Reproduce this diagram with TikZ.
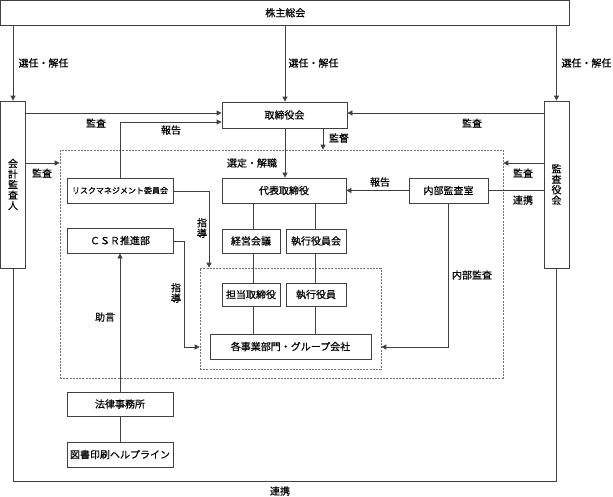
\documentclass[tikz,border=0pt]{standalone}
\usepackage{fontspec}
\newfontfamily\jp[FakeBold=0.5]{Noto Sans CJK JP}
\usetikzlibrary{arrows.meta}
\begin{document}
\begin{tikzpicture}[x=1pt,y=-1pt,
  bx/.style={draw=black!75, line width=0.8pt, inner sep=0pt, align=center, font=\jp\fontsize{10}{10.5}\selectfont},
  dbox/.style={draw=black!55, line width=0.7pt, dash pattern=on 2pt off 1.2pt, inner sep=0pt},
  ln/.style={draw=black!75, line width=0.8pt},
  arr/.style={ln, -{Triangle[length=5pt,width=5pt]}},
  lbl/.style={inner sep=0pt, font=\jp\fontsize{10}{10.5}\selectfont, align=center}]
\useasboundingbox (0,0) rectangle (613,496);
% dashed groups
\node[dbox, minimum width=443, minimum height=228] (outer) at (281.5,264) {};
\node[dbox, minimum width=181, minimum height=101] (inner) at (290.5,318.5) {};
% boxes
\node[bx, minimum width=569, minimum height=24.5] (kabu) at (285.3,12.8) {株主総会};
\node[bx, minimum width=25, minimum height=167] (kaikei) at (13,184.5) {会\\計\\監\\査\\人};
\node[bx, minimum width=25, minimum height=167] (kansa) at (556.5,184.5) {監\\査\\役\\会};
\node[bx, minimum width=125, minimum height=26] (tori) at (284.5,115) {取締役会};
\node[bx, minimum width=124, minimum height=25] (daihyo) at (284,190.5) {代表取締役};
\node[bx, minimum width=106, minimum height=25, font=\jp\fontsize{8}{9}\selectfont] (risk) at (120,190.5) {リスクマネジメント委員会};
\node[bx, minimum width=106, minimum height=25] (csr) at (120,240.5) {ＣＳＲ推進部};
\node[bx, minimum width=58, minimum height=24] (keiei) at (251,241) {経営会議};
\node[bx, minimum width=60, minimum height=24] (shikkai) at (316,241) {執行役員会};
\node[bx, minimum width=58, minimum height=23] (tantou) at (251,294.5) {担当取締役};
\node[bx, minimum width=60, minimum height=23] (shikkou) at (316,294.5) {執行役員};
\node[bx, minimum width=161, minimum height=25] (kaku) at (290.5,346.5) {各事業部門・グループ会社};
\node[bx, minimum width=79, minimum height=25] (naibu) at (448.5,190.5) {内部監査室};
\node[bx, minimum width=106, minimum height=24] (houritsu) at (120,404) {法律事務所};
\node[bx, minimum width=106, minimum height=25] (tosho) at (120,454.5) {図書印刷ヘルプライン};
% coordinates
\coordinate (kL) at (13,0);
\coordinate (kR) at (556.5,0);
\coordinate (kM) at (285,0);
\coordinate (y113) at (0,113);
\coordinate (y122) at (0,122);
\coordinate (y163) at (0,163);
\coordinate (kantoku) at (323,0);
\coordinate (shidou1) at (209,191);
\coordinate (shidou2) at (184,241);
\coordinate (y347) at (0,347);
\coordinate (bot) at (0,481);
\coordinate (v1) at (253,0);
\coordinate (v2) at (315,0);
% connectors from shareholders
\draw[arr] (kabu.south -| kL) -- (kaikei.north);
\draw[arr] (kabu.south -| kR) -- (kansa.north);
\draw[arr] (kabu.south -| kM) -- (tori.north -| kM);
\node[lbl] at (43.5,63) {選任・解任};
\node[lbl] at (313.5,63) {選任・解任};
\node[lbl] at (586.5,63) {選任・解任};
% audit to board
\draw[arr] (kaikei.east |- y113) -- (tori.west |- y113);
\node[lbl] at (96,123) {監査};
\draw[arr] (kansa.west |- y113) -- (tori.east |- y113);
\node[lbl] at (472,123) {監査};
\draw[arr] (risk.north) -- (risk.north |- y122) -- (tori.west |- y122);
\node[lbl] at (171,130) {報告};
\draw[arr] (tori.south -| kantoku) -- (outer.north -| kantoku);
\node[lbl] at (339,138) {監督};
\draw[arr] (tori.south -| kM) -- (daihyo.north -| kM);
\node[lbl] at (252,163) {選定・解職};
% audit to group
\draw[arr] (kaikei.east |- y163) -- (outer.west |- y163);
\node[lbl] at (42,173) {監査};
\draw[arr] (kansa.west |- y163) -- (outer.east |- y163);
\node[lbl] at (523,173) {監査};
\draw[ln] (kansa.west |- naibu.east) -- (naibu.east);
\node[lbl] at (523,200) {連携};
\draw[arr] (naibu.west) -- (daihyo.east);
\node[lbl] at (380,182) {報告};
% guidance
\draw[arr] (risk.east |- shidou1) -- (shidou1) -- (shidou1 |- inner.north);
\node[lbl] at (202,228) {指\\導};
\draw[arr] (csr.east |- shidou2) -- (shidou2) -- (shidou2 |- y347) -- (inner.west |- y347);
\node[lbl] at (176,293) {指\\導};
% internal audit
\draw[arr] (naibu.south) -- (naibu.south |- y347) -- (inner.east |- y347);
\node[lbl] at (472,275) {内部監査};
% hierarchy
\draw[ln] (daihyo.south -| v1) -- (keiei.north -| v1);
\draw[ln] (daihyo.south -| v2) -- (shikkai.north -| v2);
\draw[ln] (keiei.south -| v1) -- (tantou.north -| v1);
\draw[ln] (shikkai.south -| v2) -- (shikkou.north -| v2);
\draw[ln] (tantou.south -| v1) -- (kaku.north -| v1);
\draw[ln] (shikkou.south -| v2) -- (kaku.north -| v2);
% advice
\draw[arr] (houritsu.north) -- (csr.south);
\node[lbl] at (105,317) {助言};
\draw[ln] (houritsu.south) -- (tosho.north);
% cooperation bottom
\draw[ln] (kaikei.south) -- (kaikei.south |- bot) -- (kansa.south |- bot) -- (kansa.south);
\node[lbl] at (280,491) {連携};
\end{tikzpicture}
\end{document}
